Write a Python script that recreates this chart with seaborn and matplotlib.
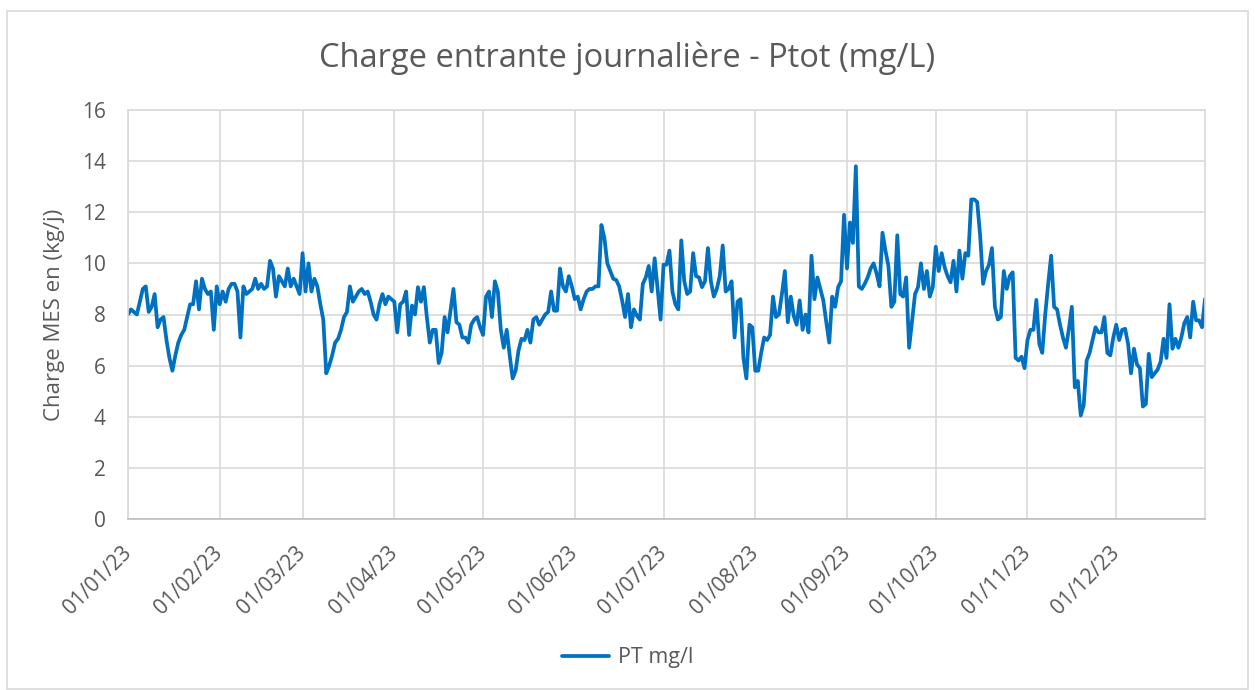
import pandas as pd
import matplotlib
matplotlib.use("Agg")
import matplotlib.pyplot as plt
import matplotlib.dates as mdates
from matplotlib.patches import Rectangle
import seaborn as sns

# Valeurs journalières PT (mg/l), lues mois par mois
jan = [8.0, 8.2, 8.1, 8.0, 8.5, 9.0, 9.1, 8.1, 8.3, 8.8, 7.5, 7.8, 7.9, 7.0, 6.3, 5.8,
       6.4, 6.9, 7.2, 7.4, 7.9, 8.4, 8.4, 9.3, 8.2, 9.4, 9.0, 8.8, 8.9, 7.4, 9.1]
feb = [8.4, 8.9, 8.5, 9.0, 9.2, 9.2, 8.9, 7.1, 9.1, 8.8, 8.9, 9.0, 9.4, 9.0, 9.2,
       9.0, 9.1, 10.1, 9.8, 8.7, 9.5, 9.3, 9.1, 9.8, 9.1, 9.4, 9.1, 8.8]
mar = [10.4, 8.9, 10.0, 8.9, 9.4, 9.1, 8.4, 7.8, 5.7, 6.0, 6.4, 6.9, 7.05, 7.4, 7.9, 8.1,
       9.1, 8.5, 8.7, 8.9, 9.0, 8.8, 8.9, 8.5, 8.0, 7.8, 8.4, 8.8, 8.4, 8.7, 8.6]
apr = [8.5, 7.3, 8.4, 8.5, 8.9, 7.2, 8.35, 8.0, 9.07, 8.5, 9.07, 7.9, 6.9, 7.4, 7.4,
       6.1, 6.5, 7.9, 7.3, 8.15, 9.0, 7.7, 7.6, 7.1, 7.1, 6.9, 7.6, 7.8, 7.9, 7.5]
may = [7.2, 8.7, 8.9, 7.9, 9.3, 8.9, 7.4, 6.7, 7.4, 6.4, 5.5, 5.8, 6.6, 7.05, 7.0, 7.4,
       6.9, 7.8, 7.9, 7.6, 7.8, 8.0, 8.1, 8.9, 8.15, 8.15, 9.8, 9.1, 8.9, 9.5, 9.1]
jun = [8.6, 8.7, 8.2, 8.6, 8.9, 9.0, 9.0, 9.1, 9.1, 11.5, 11.0, 10.0, 9.7, 9.4, 9.35,
       9.1, 8.55, 7.9, 8.8, 7.5, 8.2, 7.95, 7.8, 9.2, 9.45, 9.9, 8.9, 10.2, 9.0, 7.8]
jul = [9.95, 9.95, 10.5, 8.9, 8.4, 8.2, 10.9, 9.3, 8.8, 8.9, 10.4, 9.5, 9.45, 9.07, 9.3,
       10.6, 9.3, 8.7, 9.0, 9.5, 10.7, 8.9, 9.0, 9.3, 7.1, 8.5, 8.6, 6.3, 5.5, 7.6, 7.5]
aug = [5.8, 5.8, 6.5, 7.1, 7.0, 7.2, 8.7, 7.9, 8.0, 8.8, 9.7, 7.7, 8.7, 7.95, 7.6, 8.55,
       7.4, 8.0, 7.3, 10.3, 8.6, 9.45, 9.0, 8.55, 7.7, 6.9, 8.7, 8.3, 9.07, 9.3, 11.9]
sep = [9.8, 11.6, 10.8, 13.8, 9.1, 9.0, 9.2, 9.45, 9.8, 10.0, 9.6, 9.1, 11.2, 10.5, 9.9,
       8.3, 8.5, 11.1, 8.8, 8.7, 9.45, 6.7, 7.77, 8.8, 9.07, 10.0, 9.0, 9.7, 8.7, 9.07]
oct = [10.65, 9.7, 10.4, 9.85, 9.5, 9.26, 10.1, 8.9, 10.5, 9.4, 10.4, 10.3, 12.5, 12.5,
       12.4, 11.1, 9.2, 9.7, 9.95, 10.6, 8.3, 7.8, 7.9, 9.7, 9.0, 9.5, 9.65, 6.3, 6.2,
       6.35, 5.9]
nov = [7.0, 7.4, 7.4, 8.57, 6.85, 6.5, 8.0, 9.2, 10.3, 8.3, 8.2, 7.6, 7.1, 6.7, 7.44,
       8.3, 5.15, 5.4, 4.05, 4.45, 6.2, 6.5, 7.0, 7.5, 7.3, 7.3, 7.9, 6.5, 6.4, 7.1]
dec = [7.6, 7.0, 7.4, 7.44, 6.85, 5.7, 6.66, 6.05, 5.9, 4.4, 4.5, 6.46, 5.55, 5.7, 5.85,
       6.15, 7.05, 6.3, 8.4, 6.66, 7.05, 6.7, 7.1, 7.66, 7.9, 7.1, 8.5, 7.77, 7.77, 7.5, 8.6]

pt_mgl = jan + feb + mar + apr + may + jun + jul + aug + sep + oct + nov + dec
dates = pd.date_range("2023-01-01", periods=len(pt_mgl), freq="D")
df = pd.DataFrame({"date": dates, "PT mg/l": pt_mgl})

y_ticks = list(range(0, 17, 2))
month_ticks = pd.date_range("2023-01-01", "2023-12-01", freq="MS")

txt = "#595959"
grid = "#d9d9d9"

sns.set_theme(style="white")
plt.rcParams["font.family"] = ["Open Sans", "DejaVu Sans"]

fig = plt.figure(figsize=(12.55, 6.9), dpi=100)
fig.patches.append(Rectangle((7 / 1255, 1 / 690), 1241 / 1255, 678 / 690,
                             transform=fig.transFigure, fill=False,
                             edgecolor=grid, linewidth=1.2))

ax = fig.add_axes([128 / 1255, 1 - 519 / 690, 1077 / 1255, 409 / 690])
sns.lineplot(data=df, x="date", y="PT mg/l", ax=ax, color="#0070C0",
             linewidth=2.7, label="PT mg/l", legend=False)

ax.set_xlim(pd.Timestamp("2023-01-01"), pd.Timestamp("2023-12-31"))
ax.set_ylim(0, 16)
ax.set_yticks(y_ticks)
ax.set_xticks(month_ticks)
ax.xaxis.set_major_formatter(mdates.DateFormatter("%d/%m/%y"))
ax.grid(True, color=grid, linewidth=1.2)
ax.set_axisbelow(True)
for s in ax.spines.values():
    s.set_color(grid)
    s.set_linewidth(1.2)
ax.spines["bottom"].set_color("#bfbfbf")

ax.tick_params(axis="y", length=0, pad=16, labelsize=15, labelcolor=txt)
ax.tick_params(axis="x", length=0, pad=22, labelsize=15, labelcolor=txt)
for lab in ax.get_xticklabels():
    lab.set_rotation(45)
    lab.set_ha("right")
    lab.set_va("center")
    lab.set_rotation_mode("anchor")

ax.set_xlabel("")
ax.set_ylabel("Charge MES en (kg/j)", fontsize=16, color=txt, labelpad=12)

fig.text(0.5, 1 - 58 / 690, "Charge entrante journalière - Ptot (mg/L)",
         ha="center", va="center", fontsize=23.5, color=txt)

handles, labels = ax.get_legend_handles_labels()
fig.legend(handles, labels, loc="center", bbox_to_anchor=(0.5, 1 - 658 / 690),
           frameon=False, fontsize=15.5, labelcolor=txt, handlelength=2.2,
           handletextpad=0.4)

fig.savefig("out.png", dpi=100)
